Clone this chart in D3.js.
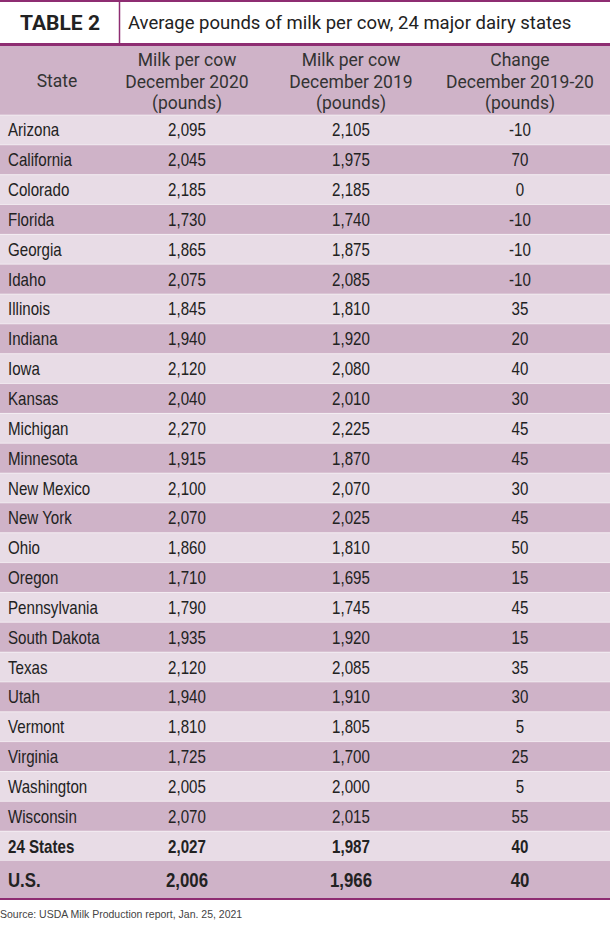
<!DOCTYPE html>
<html><head><meta charset="utf-8">
<script src="https://cdn.jsdelivr.net/npm/d3@7"></script>
<style>body{margin:0;background:#fff}</style>
</head><body><svg id="chart" width="610" height="925"></svg>
<script>
// table data
const states = ["Arizona","California","Colorado","Florida","Georgia","Idaho","Illinois","Indiana","Iowa","Kansas","Michigan","Minnesota","New Mexico","New York","Ohio","Oregon","Pennsylvania","South Dakota","Texas","Utah","Vermont","Virginia","Washington","Wisconsin","24 States","U.S."];
const dec2020 = [2095,2045,2185,1730,1865,2075,1845,1940,2120,2040,2270,1915,2100,2070,1860,1710,1790,1935,2120,1940,1810,1725,2005,2070,2027,2006];
const dec2019 = [2105,1975,2185,1740,1875,2085,1810,1920,2080,2010,2225,1870,2070,2025,1810,1695,1745,1920,2085,1910,1805,1700,2000,2015,1987,1966];
const change = [-10,70,0,-10,-10,-10,35,20,40,30,45,45,30,45,50,15,45,15,35,30,5,25,5,55,40,40];
const headers = [["State"],["Milk per cow","December 2020","(pounds)"],["Milk per cow","December 2019","(pounds)"],["Change","December 2019-20","(pounds)"]];

const svg = d3.select("#chart");
const purple = "#8e2d72", light = "#e8dce6", dark = "#cfb3c8";
const headFont = "Roboto, 'DejaVu Sans', sans-serif";
const cellFont = "'Liberation Sans', Arial, sans-serif";
const fmt = d3.format(",");
const squeeze = 0.84;

const y = d3.scaleBand().domain(d3.range(25)).range([115, 861]).padding(0);
const colX = [8, 187, 351, 520];

// title band
svg.append("rect").attr("x", 0).attr("y", 0).attr("width", 610).attr("height", 2).attr("fill", purple);
svg.append("line").attr("x1", 119.5).attr("x2", 119.5).attr("y1", 2).attr("y2", 44).attr("stroke", purple).attr("stroke-width", 1.5);
svg.append("text").attr("x", 60).attr("y", 30).attr("text-anchor", "middle")
  .attr("font-family", headFont).attr("font-weight", 700).attr("font-size", 21).attr("fill", "#222").text("TABLE 2");
svg.append("text").attr("x", 128).attr("y", 29).attr("font-family", headFont)
  .attr("font-size", 18.5).attr("fill", "#222").text("Average pounds of milk per cow, 24 major dairy states");
svg.append("rect").attr("x", 0).attr("y", 43).attr("width", 610).attr("height", 3).attr("fill", purple);

// column header
svg.append("rect").attr("x", 0).attr("y", 46).attr("width", 610).attr("height", 69).attr("fill", dark);
headers.forEach((lines, i) => {
  const x = i === 0 ? 57 : colX[i];
  const t = svg.append("text").attr("x", x).attr("text-anchor", "middle")
    .attr("font-family", headFont).attr("font-size", 17.5).attr("fill", "#333");
  const y0 = lines.length === 1 ? 87 : 66;
  lines.forEach((l, j) => t.append("tspan").attr("x", x).attr("y", y0 + j * 21.5).text(l));
});

// body rows
const rows = states.slice(0, 25).map((s, i) => ({s, a: dec2020[i], b: dec2019[i], c: change[i], i}));
const row = svg.append("g").selectAll("g.row").data(rows).join("g").attr("class", "row")
  .attr("transform", d => `translate(0,${y(d.i)})`);
row.append("rect").attr("width", 610).attr("height", y.bandwidth())
  .attr("fill", d => d.i % 2 ? dark : light);
row.append("line").attr("x1", 0).attr("x2", 610).attr("y1", 0).attr("y2", 0).attr("stroke", "#fff").attr("stroke-opacity", 0.5);
const cell = (sel, x, anchor, fn) => sel.append("text")
  .attr("transform", `translate(${x},${y.bandwidth() / 2 + 6.5}) scale(${squeeze},1)`)
  .attr("text-anchor", anchor).attr("font-family", cellFont).attr("font-size", 18)
  .attr("font-weight", d => d.i === 24 ? 700 : 400).attr("fill", "#222").text(fn);
cell(row, colX[0], "start", d => d.s);
cell(row, colX[1], "middle", d => fmt(d.a));
cell(row, colX[2], "middle", d => fmt(d.b));
cell(row, colX[3], "middle", d => d.c);

// U.S. row
const usY = 861, usH = 37;
svg.append("rect").attr("x", 0).attr("y", usY).attr("width", 610).attr("height", usH).attr("fill", dark);
[[colX[0], "start", states[25]], [colX[1], "middle", fmt(dec2020[25])], [colX[2], "middle", fmt(dec2019[25])], [colX[3], "middle", change[25]]]
  .forEach(([x, a, t]) => svg.append("text").attr("transform", `translate(${x},${usY + 26}) scale(${squeeze},1)`)
    .attr("text-anchor", a).attr("font-family", cellFont).attr("font-size", 20).attr("font-weight", 700)
    .attr("fill", "#222").text(t));
svg.append("rect").attr("x", 0).attr("y", usY + usH).attr("width", 610).attr("height", 2).attr("fill", purple);

svg.append("text").attr("x", 0).attr("y", 918).attr("font-family", "'Liberation Sans', Arial, sans-serif")
  .attr("font-size", 10.5).attr("fill", "#444").text("Source: USDA Milk Production report, Jan. 25, 2021");
</script></body></html>
